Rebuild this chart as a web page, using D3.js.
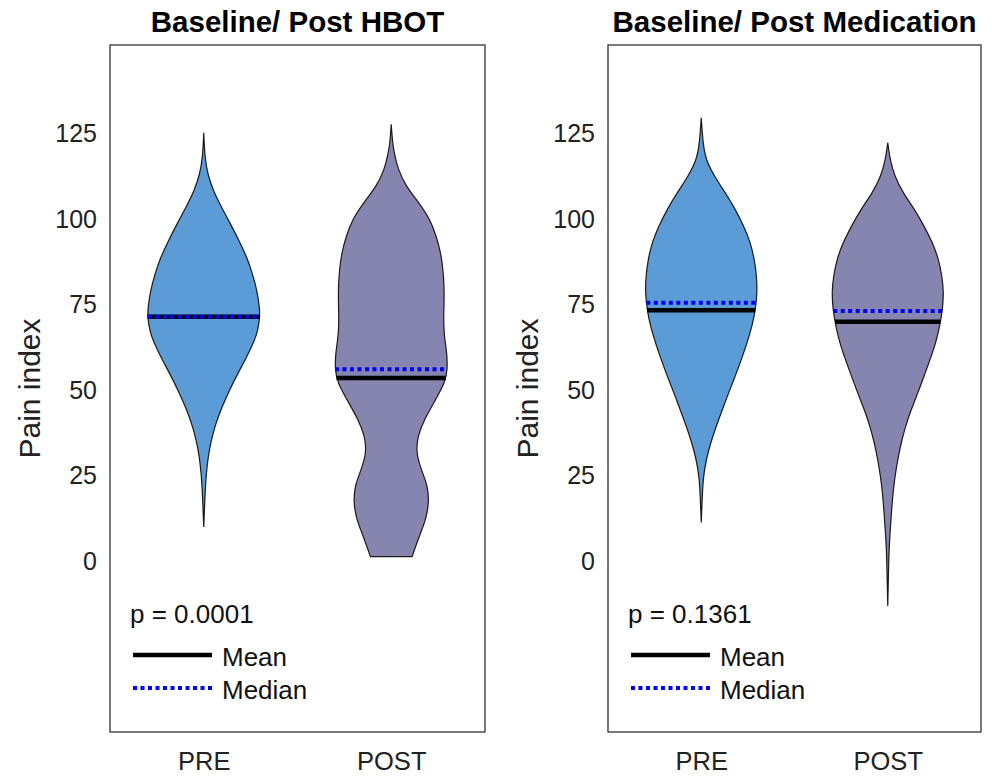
<!DOCTYPE html>
<html>
<head>
<meta charset="utf-8">
<script src="https://cdn.jsdelivr.net/npm/d3@7"></script>
<style>
  body { margin: 0; background: #fff; }
  svg { display: block; font-family: "Liberation Sans", Arial, sans-serif; }
</style>
</head>
<body>
<script>
let width = 992;
let height = 778;

// --- data ---
let categories = ["PRE", "POST"];
let panelTitles = ["Baseline/ Post HBOT", "Baseline/ Post Medication"];
let pLabels = ["p = 0.0001", "p = 0.1361"];
let yTicks = [0, 25, 50, 75, 100, 125];

// violin profiles: pain index value and relative density (1 = widest)
let hbotPreValues = [10, 20.6, 25.4, 30.3, 35.2, 40.1, 44.9, 49.8, 54.7, 59.6, 64.4, 67.3, 71.7, 74.2, 79.0, 83.9, 88.8, 93.7, 98.5, 103.4, 108.3, 113.2, 118.0, 125.3];
let hbotPreDensity = [0, 0.025, 0.045, 0.075, 0.13, 0.21, 0.32, 0.45, 0.60, 0.76, 0.90, 0.96, 1.0, 0.99, 0.95, 0.87, 0.77, 0.63, 0.48, 0.32, 0.17, 0.07, 0.02, 0];

let hbotPostValues = [1.3, 7.4, 12.3, 17.2, 22.0, 26.9, 31.8, 36.6, 41.5, 46.4, 52.3, 56.1, 61.0, 65.9, 70.8, 75.6, 80.5, 85.4, 90.3, 95.1, 100.0, 104.9, 109.7, 114.6, 119.5, 123.0, 127.8];
let hbotPostDensity = [0.37, 0.50, 0.62, 0.67, 0.65, 0.53, 0.44, 0.47, 0.59, 0.76, 0.96, 1.0, 0.99, 0.94, 0.93, 0.94, 0.94, 0.92, 0.88, 0.80, 0.69, 0.49, 0.26, 0.12, 0.05, 0.02, 0];

let medPreValues = [11.3, 20.1, 24.9, 29.8, 34.7, 39.6, 44.4, 49.3, 54.2, 59.1, 63.9, 68.8, 73.7, 78.6, 83.4, 88.3, 93.2, 98.0, 102.9, 107.8, 112.7, 117.5, 122.4, 129.7];
let medPreDensity = [0, 0.02, 0.04, 0.09, 0.17, 0.27, 0.38, 0.49, 0.61, 0.72, 0.82, 0.91, 0.97, 1.0, 0.99, 0.95, 0.88, 0.76, 0.61, 0.43, 0.23, 0.08, 0.03, 0];

let medPostValues = [-13.1, -4.3, 0.6, 5.5, 10.3, 15.2, 20.1, 24.9, 29.8, 34.7, 39.6, 44.4, 49.3, 54.2, 59.1, 63.9, 68.8, 73.7, 78.6, 83.4, 88.3, 93.2, 98.0, 102.9, 107.8, 112.7, 117.5, 122.4];
let medPostDensity = [0, 0.012, 0.018, 0.03, 0.05, 0.07, 0.095, 0.13, 0.18, 0.24, 0.32, 0.42, 0.54, 0.65, 0.76, 0.86, 0.93, 0.98, 1.0, 0.97, 0.91, 0.80, 0.65, 0.48, 0.27, 0.12, 0.04, 0];

let hbotMeans = [71.5, 53.6];
let hbotMedians = [71.5, 56.1];
let medMeans = [73.4, 70.0];
let medMedians = [75.6, 73.2];

let colors = ["#5b9bd6", "#8585b0"];

let panels = [
  {title: panelTitles[0], p: pLabels[0], left: 110, right: 485,
   violins: [[hbotPreValues, hbotPreDensity], [hbotPostValues, hbotPostDensity]],
   means: hbotMeans, medians: hbotMedians},
  {title: panelTitles[1], p: pLabels[1], left: 608, right: 981,
   violins: [[medPreValues, medPreDensity], [medPostValues, medPostDensity]],
   means: medMeans, medians: medMedians}
];

let plotTop = 45, plotBottom = 732;
let halfWidth = 0.3; // in category units

let svg = d3.select("body").append("svg").attr("width", width).attr("height", height);

let yScale = d3.scaleLinear().domain([-50, 151]).range([plotBottom, plotTop]);

panels.forEach((p) => {
  let g = svg.append("g");
  let xScale = d3.scaleLinear().domain([0.5, 2.5]).range([p.left, p.right]);
  let xBand = (i) => xScale(i + 1);
  let w = (d) => xScale(1 + halfWidth * d) - xScale(1);

  // violins
  p.violins.forEach(([vals, dens], i) => {
    let pts = vals.map((v, k) => ({v: v, d: dens[k]}));
    let area = d3.area()
      .y((d) => yScale(d.v))
      .x0((d) => xBand(i) - w(d.d))
      .x1((d) => xBand(i) + w(d.d))
      .curve(d3.curveBasis);
    g.append("path").datum(pts)
      .attr("d", area)
      .attr("fill", colors[i])
      .attr("stroke", "#1a1a1a")
      .attr("stroke-width", 1.2);

    let widthAt = d3.scaleLinear().domain(vals).range(dens);
    let hw = (v) => w(widthAt(v));
    g.append("line")
      .attr("x1", xBand(i) - hw(p.means[i])).attr("x2", xBand(i) + hw(p.means[i]))
      .attr("y1", yScale(p.means[i])).attr("y2", yScale(p.means[i]))
      .attr("stroke", "#000").attr("stroke-width", 4.5);
    g.append("line")
      .attr("x1", xBand(i) - hw(p.medians[i])).attr("x2", xBand(i) + hw(p.medians[i]))
      .attr("y1", yScale(p.medians[i])).attr("y2", yScale(p.medians[i]))
      .attr("stroke", "#0000ff").attr("stroke-width", 4)
      .attr("stroke-dasharray", "4,3.5");
  });

  // box
  g.append("rect")
    .attr("x", p.left).attr("y", plotTop)
    .attr("width", p.right - p.left).attr("height", plotBottom - plotTop)
    .attr("fill", "none").attr("stroke", "#333").attr("stroke-width", 1.3);

  // y axis labels
  let yAxis = g.append("g").attr("transform", "translate(" + p.left + ",0)")
    .call(d3.axisLeft(yScale).tickValues(yTicks).tickSize(0).tickPadding(13));
  yAxis.select(".domain").remove();
  yAxis.selectAll("text").attr("font-size", 25).attr("fill", "#222").attr("font-family", null);

  // x axis labels
  let xAxis = g.append("g").attr("transform", "translate(0," + plotBottom + ")")
    .call(d3.axisBottom(xScale).tickValues([1, 2]).tickFormat((d) => categories[d - 1]).tickSize(0).tickPadding(20));
  xAxis.select(".domain").remove();
  xAxis.selectAll("text").attr("font-size", 25.5).attr("fill", "#222").attr("font-family", null);

  // title
  g.append("text")
    .attr("x", (p.left + p.right) / 2).attr("y", 32)
    .attr("text-anchor", "middle").attr("font-size", 29.5).attr("font-weight", "bold")
    .text(p.title);

  // y label
  g.append("text")
    .attr("transform", "translate(" + (p.left - 70) + "," + ((plotTop + plotBottom) / 2) + ") rotate(-90)")
    .attr("text-anchor", "middle").attr("font-size", 30).attr("fill", "#222")
    .text("Pain index");

  // p value and legend
  g.append("text").attr("x", p.left + 20).attr("y", 623)
    .attr("font-size", 26).attr("fill", "#111").text(p.p);

  g.append("line").attr("x1", p.left + 23).attr("x2", p.left + 102)
    .attr("y1", 655).attr("y2", 655).attr("stroke", "#000").attr("stroke-width", 4.5);
  g.append("text").attr("x", p.left + 112).attr("y", 666)
    .attr("font-size", 26).attr("fill", "#111").text("Mean");

  g.append("line").attr("x1", p.left + 23).attr("x2", p.left + 102)
    .attr("y1", 688).attr("y2", 688).attr("stroke", "#0000ff").attr("stroke-width", 4)
    .attr("stroke-dasharray", "4,3.5");
  g.append("text").attr("x", p.left + 112).attr("y", 699)
    .attr("font-size", 26).attr("fill", "#111").text("Median");
});
</script>
</body>
</html>
